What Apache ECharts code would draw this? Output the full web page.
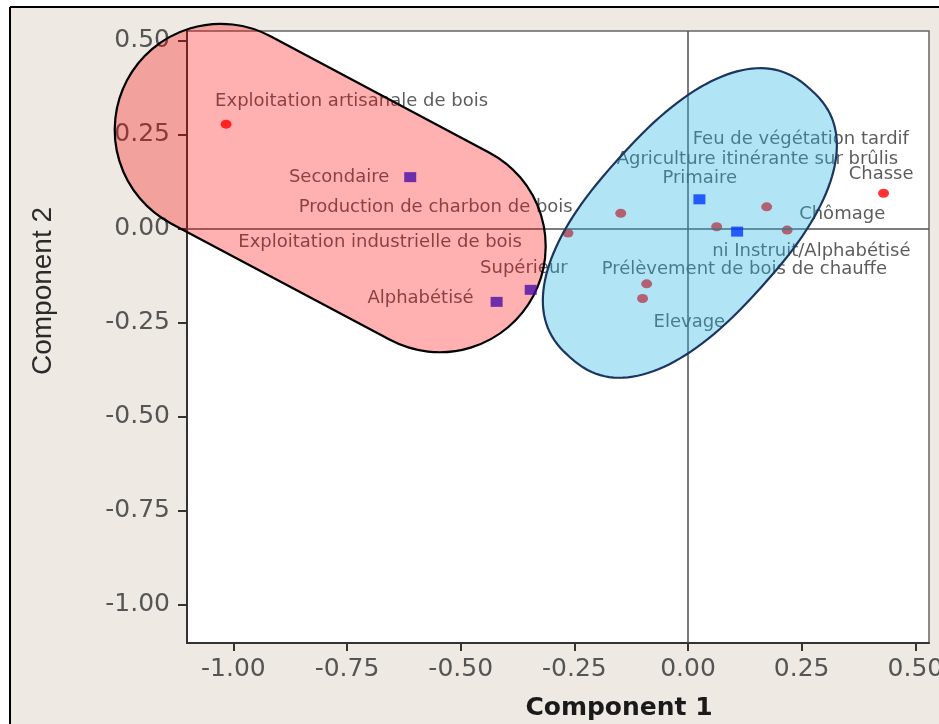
<!DOCTYPE html>
<html><head><meta charset="utf-8">
<script src="https://cdn.jsdelivr.net/npm/echarts@6.0.0/dist/echarts.min.js"></script>
<style>html,body{margin:0;padding:0;background:#fff}#c{width:939px;height:724px}</style>
</head><body><div id="c"></div>
<script>
// ---- data ----
const xTicks = [-1.00, -0.75, -0.50, -0.25, 0.00, 0.25, 0.50];
const yTicks = [-1.00, -0.75, -0.50, -0.25, 0.00, 0.25, 0.50];

const varNames = ['Exploitation artisanale de bois', 'Production de charbon de bois', 'Exploitation industrielle de bois',
  'Feu de végétation tardif', 'Agriculture itinérante sur brûlis', 'Chômage', 'Chasse',
  'Prélèvement de bois de chauffe', 'Elevage'];
const varX = [-1.016, -0.148, -0.264, 0.173, 0.063, 0.218, 0.430, -0.091, -0.100];
const varY = [0.278, 0.041, -0.012, 0.058, 0.005, -0.004, 0.094, -0.147, -0.186];

const eduNames = ['Secondaire', 'Supérieur', 'Alphabétisé', 'Primaire', 'ni Instruit/Alphabétisé'];
const eduX = [-0.611, -0.346, -0.421, 0.025, 0.108];
const eduY = [0.137, -0.163, -0.195, 0.078, -0.008];

// ---- styles / layout (not data) ----
const eduColors = ['#4a0caa', '#4a0caa', '#4a0caa', '#0038ff', '#0038ff'];
const labelLayout = {
  'Exploitation artisanale de bois': ['left', -11, -23],
  'Secondaire': ['right', -21, 0],
  'Production de charbon de bois': ['right', -48, -6],
  'Exploitation industrielle de bois': ['right', -46, 9],
  'Supérieur': ['right', 37, -22],
  'Alphabétisé': ['right', -23, -4],
  'Primaire': ['left', -37, -21],
  'Feu de végétation tardif': ['left', -74, -67],
  'Agriculture itinérante sur brûlis': ['left', -100, -67],
  'ni Instruit/Alphabétisé': ['left', -25, 20],
  'Chômage': ['left', 12, -16],
  'Chasse': ['right', 30, -19],
  'Prélèvement de bois de chauffe': ['left', -45, -15],
  'Elevage': ['left', 11, 24]
};
// red group: rounded capsule anchored at a data point (size in px)
const redGroup = { center: [-0.787, 0.108], w: 460, h: 212, angleDeg: -28, fill: 'rgba(255,0,0,0.31)', stroke: '#000' };
// blue group: rotated rounded (superellipse) outline anchored at a data point (size in px)
const blueGroup = { center: [0.004, 0.015], a: 180, b: 96, power: 2.4, angleDeg: 48, fill: 'rgba(36,182,227,0.357)', stroke: '#1b3560' };

function lbl(name) {
  const l = labelLayout[name];
  return { show: true, position: 'inside', align: l[0], verticalAlign: 'middle', offset: [l[1], l[2]],
    formatter: name, fontSize: 18, fontFamily: 'DejaVu Sans', color: '#333' };
}

const axisLabelStyle = { fontSize: 25, fontFamily: 'DejaVu Sans', color: '#555', formatter: v => v.toFixed(2) };

const chart = echarts.init(document.getElementById('c'), null, { renderer: 'canvas' });
const option = {
  backgroundColor: '#eee9e3',
  animation: false,
  grid: { left: 187, top: 31, width: 742, height: 612, show: true, backgroundColor: '#fff',
    borderColor: '#666', borderWidth: 1.5, containLabel: false, outerBoundsMode: 'none' },
  xAxis: {
    type: 'value', min: -1.102, max: 0.530, position: 'bottom',
    axisLine: { show: true, onZero: false, lineStyle: { color: '#333', width: 2 } },
    axisTick: { show: true, customValues: xTicks, length: 8, lineStyle: { color: '#333', width: 2 } },
    axisLabel: Object.assign({ customValues: xTicks, margin: 14 }, axisLabelStyle),
    splitLine: { show: false }
  },
  yAxis: {
    type: 'value', min: -1.103, max: 0.526, position: 'left',
    axisLine: { show: true, onZero: false, lineStyle: { color: '#333', width: 2 } },
    axisTick: { show: true, customValues: yTicks, length: 9, lineStyle: { color: '#333', width: 2 } },
    axisLabel: Object.assign({ customValues: yTicks, margin: 17 }, axisLabelStyle),
    splitLine: { show: false }
  },
  series: [
    {
      name: 'Variables', type: 'scatter', z: 2, symbol: 'circle', symbolSize: [11, 9],
      itemStyle: { color: '#ff0000' },
      data: varNames.map((n, i) => ({ name: n, value: [varX[i], varY[i]], label: lbl(n) })),
      markLine: {
        silent: true, symbol: 'none', label: { show: false },
        lineStyle: { color: '#505050', width: 1.5, type: 'solid' },
        data: [{ xAxis: 0 }, { yAxis: 0 }]
      }
    },
    {
      name: 'EducationLabels', type: 'scatter', z: 2, symbol: 'rect', symbolSize: [12, 10],
      itemStyle: { color: 'rgba(0,0,0,0)' },
      data: eduNames.map((n, i) => ({ name: n, value: [eduX[i], eduY[i]], label: lbl(n) }))
    },
    {
      name: 'Education', type: 'scatter', zlevel: 1, z: 20, symbol: 'rect', symbolSize: [12, 10],
      data: eduNames.map((n, i) => ({ name: n, value: [eduX[i], eduY[i]], itemStyle: { color: eduColors[i] } }))
    }
  ]
};
chart.setOption(option);

const els = [
  { type: 'rect', z: -5, silent: true, shape: { x: 0, y: 0, width: 939, height: 7 }, style: { fill: '#fff' } },
  { type: 'rect', z: -5, silent: true, shape: { x: 0, y: 0, width: 10, height: 724 }, style: { fill: '#fff' } },
  { type: 'line', z: 1, silent: true, shape: { x1: 10, y1: 7, x2: 939, y2: 7 }, style: { stroke: '#000', lineWidth: 2 } },
  { type: 'line', z: 1, silent: true, shape: { x1: 10, y1: 7, x2: 10, y2: 724 }, style: { stroke: '#000', lineWidth: 2 } },
  { type: 'text', z: 1, x: 619, y: 708, silent: true,
    style: { text: 'Component 1', fontSize: 25, fontWeight: 'bold', fontFamily: 'DejaVu Sans', fill: '#1a1a1a', align: 'center', verticalAlign: 'middle' } },
  { type: 'text', z: 1, x: 43, y: 291, rotation: Math.PI / 2, silent: true,
    style: { text: 'Component 2', fontSize: 28, fontFamily: 'Liberation Sans', fill: '#2a2a2a', align: 'center', verticalAlign: 'middle' } }
];
const rp = chart.convertToPixel({ gridIndex: 0 }, redGroup.center);
els.push({
  type: 'rect', z: 10, silent: true, x: rp[0], y: rp[1], rotation: redGroup.angleDeg * Math.PI / 180,
  shape: { x: -redGroup.w / 2, y: -redGroup.h / 2, width: redGroup.w, height: redGroup.h, r: redGroup.h / 2 },
  style: { fill: redGroup.fill, stroke: redGroup.stroke, lineWidth: 2.2 }
});
// superellipse outline for the blue group
const bp = chart.convertToPixel({ gridIndex: 0 }, blueGroup.center);
const phi = blueGroup.angleDeg * Math.PI / 180, ex = 2 / blueGroup.power;
const outline = [];
for (let k = 0; k < 144; k++) {
  const th = 2 * Math.PI * k / 144, c = Math.cos(th), s = Math.sin(th);
  const u = blueGroup.a * Math.sign(c) * Math.pow(Math.abs(c), ex);
  const v = blueGroup.b * Math.sign(s) * Math.pow(Math.abs(s), ex);
  outline.push([u * Math.cos(phi) + v * Math.sin(phi), -u * Math.sin(phi) + v * Math.cos(phi)]);
}
els.push({
  type: 'polygon', z: 10, silent: true, x: bp[0], y: bp[1],
  shape: { points: outline },
  style: { fill: blueGroup.fill, stroke: blueGroup.stroke, lineWidth: 2.2 }
});
chart.setOption({ graphic: { elements: els } });
</script>
</body></html>
